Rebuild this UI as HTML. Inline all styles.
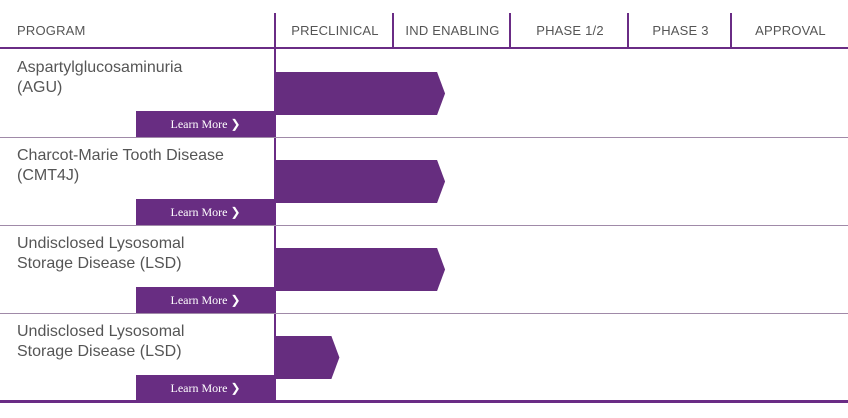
<!DOCTYPE html>
<html><head><meta charset="utf-8"><style>
body{margin:0;background:#fff;font-family:"Liberation Sans",sans-serif}
#c{position:relative;width:848px;height:418px;overflow:hidden}
.hd{position:absolute;top:13px;height:35px;line-height:35px;text-align:center;font-size:13px;color:#555;letter-spacing:0.2px}
.vs{position:absolute;top:13px;width:2px;height:35px;background:#6a2c85}
.name{position:absolute;left:17px;font-size:16px;line-height:20px;color:#555}
.btn{position:absolute;left:136px;width:139px;height:26px;line-height:26px;background:#682d82;color:#fff;text-align:center;font-family:"Liberation Serif",serif;font-size:12px}
.div{position:absolute;left:0;width:848px;height:1px;background:#a08aa8}
</style></head><body>
<div id="c">
<div class="hd" style="left:17px;text-align:left">PROGRAM</div>
<div class="hd" style="left:277px;width:116px">PRECLINICAL</div>
<div class="hd" style="left:395px;width:115px">IND ENABLING</div>
<div class="hd" style="left:512px;width:116px">PHASE 1/2</div>
<div class="hd" style="left:630px;width:101px">PHASE 3</div>
<div class="hd" style="left:733px;width:115px">APPROVAL</div>
<div class="vs" style="left:392px"></div>
<div class="vs" style="left:509px"></div>
<div class="vs" style="left:627px"></div>
<div class="vs" style="left:730px"></div>
<div style="position:absolute;left:0;top:47px;width:848px;height:2px;background:#6a2c85"></div>
<div style="position:absolute;left:274px;top:13px;width:2px;height:389px;background:#6a2c85"></div>
<div style="position:absolute;left:0;top:400px;width:848px;height:3px;background:#6a2c85"></div>
<svg id="bars" width="848" height="418" style="position:absolute;left:0;top:0"></svg>
</div>
<script>
const programs=["Aspartylglucosaminuria<br>(AGU)","Charcot-Marie Tooth Disease<br>(CMT4J)","Undisclosed Lysosomal<br>Storage Disease (LSD)","Undisclosed Lysosomal<br>Storage Disease (LSD)"];
const progress=[1.44,1.44,1.44,0.54];
const stages=["PRECLINICAL","IND ENABLING","PHASE 1/2","PHASE 3","APPROVAL"];
const x0=276, stageW=117.4, rowTop=48, rowH=88;
const xs=v=>x0+v*stageW;
const c=document.getElementById('c'), svg=document.getElementById('bars');
programs.forEach((p,i)=>{
  const top=rowTop+i*rowH;
  const n=document.createElement('div');n.className='name';n.style.top=(top+10)+'px';n.innerHTML=p;
  
  
  c.appendChild(n);
  const b=document.createElement('div');b.className='btn';b.style.top=(top+63)+'px';b.innerHTML='Learn More &#x276F;';
  
  
  c.appendChild(b);
  if(i<programs.length-1){const d=document.createElement('div');d.className='div';d.style.top=(top+rowH+1)+'px';
  
  
  c.appendChild(d);}
  const e=xs(progress[i]), y1=top+24, y2=top+67;
  const poly=document.createElementNS('http://www.w3.org/2000/svg','polygon');
  poly.setAttribute('points',`${x0},${y1} ${e-8},${y1} ${e},${(y1+y2)/2} ${e-8},${y2} ${x0},${y2}`);
  poly.setAttribute('fill','#662d7f');
  
  
  svg.appendChild(poly);
});
</script>
</body></html>
